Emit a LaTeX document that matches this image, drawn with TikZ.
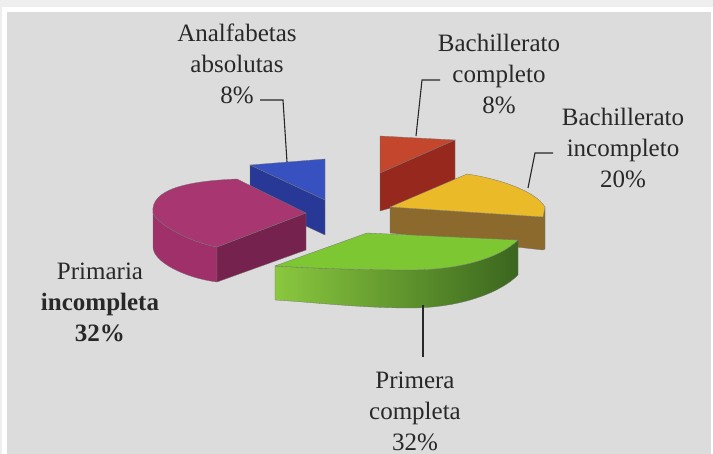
\documentclass[tikz,border=0pt]{standalone}
\usepackage{fontspec}
\setmainfont{Liberation Serif}
\definecolor{panel}{RGB}{220,220,220}
\definecolor{strip}{RGB}{238,238,238}
\definecolor{txt}{RGB}{40,40,40}
\definecolor{magtop}{RGB}{168,54,112}
\definecolor{magrim}{RGB}{160,48,106}
\definecolor{magfront}{RGB}{118,34,78}
\definecolor{bluetop}{RGB}{55,82,192}
\definecolor{blueside}{RGB}{40,56,150}
\definecolor{redtop}{RGB}{196,70,45}
\definecolor{redside}{RGB}{150,40,30}
\definecolor{yeltop}{RGB}{234,186,40}
\definecolor{yelside}{RGB}{140,105,45}
\definecolor{grntop}{RGB}{125,200,50}
\definecolor{grnl}{RGB}{138,200,62}
\definecolor{grnr}{RGB}{58,102,30}
\tikzset{
  lbl/.style={align=center,inner sep=0pt,text=txt,font=\fontsize{25}{31}\selectfont},
  leader/.style={draw=txt,line width=1.1pt},
  edge/.style={draw=black!55,line width=0.3pt}
}
\begin{document}
\begin{tikzpicture}[x=1pt,y=-1pt]
\useasboundingbox (0,0) rectangle (713,454);
% background
\fill[white] (0,0) rectangle (713,454);
\fill[strip] (0,0) rectangle (713,7);
\fill[strip] (0,0) rectangle (2,454);
\fill[panel] (7,12) rectangle (711,454);
% blue slice
\fill[blueside,edge] (250,165) -- (325,200) -- (325,235) -- (250,200) -- cycle;
\fill[bluetop,edge] (250,165) -- (325,159) -- (325,200) -- cycle;
% red slice
\fill[redside,edge] (380,173) -- (455,140) -- (455,190) -- (380,211) -- cycle;
\fill[redtop,edge] (380,136) -- (455,140) -- (380,173) -- cycle;
% yellow slice
\fill[yelside,edge] (390,207) -- (543,217) -- (545,208) -- (545,249) -- (543,250) -- (390,233) -- cycle;
\fill[yeltop,edge] (390,207) -- (467,174) .. controls (495,178) and (535,190) .. (545,207) -- (543,217) -- cycle;
% magenta slice
\fill[magrim,edge] (153,213) .. controls (158,225) and (190,242) .. (217,247) -- (217,282) .. controls (185,278) and (153,262) .. (153,247) -- cycle;
\fill[magfront,edge] (217,247) -- (306,213) -- (306,250) -- (217,282) -- cycle;
\fill[magtop,edge] (153,213) .. controls (150,190) and (185,181) .. (237,179) -- (306,213) -- (217,247) .. controls (190,242) and (158,225) .. (153,213) -- cycle;
% green slice
\shade[left color=grnl,right color=grnr] (275,266) .. controls (310,268) and (360,270) .. (410,270) .. controls (460,270) and (500,258) .. (518,240) -- (518,275) .. controls (500,293) and (460,308) .. (410,308) .. controls (360,308) and (310,302) .. (275,300) -- cycle;
\draw[edge] (275,266) .. controls (310,268) and (360,270) .. (410,270) .. controls (460,270) and (500,258) .. (518,240) -- (518,275) .. controls (500,293) and (460,308) .. (410,308) .. controls (360,308) and (310,302) .. (275,300) -- cycle;
\fill[grntop,edge] (275,266) -- (367,233) -- (518,240) .. controls (500,258) and (460,270) .. (410,270) .. controls (360,270) and (310,268) .. (275,266) -- cycle;
% labels
\node[lbl] (analf) at (237,64) {Analfabetas\\absolutas\\8\%};
\node[lbl] (bachc) at (499,74) {Bachillerato\\completo\\8\%};
\node[lbl] (bachi) at (623,148) {Bachillerato\\incompleto\\20\%};
\node[lbl] (prim) at (100,302) {Primaria\\\textbf{incompleta}\\\textbf{32\%}};
\node[lbl] (primc) at (415,411) {Primera\\completa\\32\%};
% leader anchor points
\coordinate (bl0) at (287,162);
\coordinate (bl1) at (283,100);
\coordinate (bl2) at (260,100);
\coordinate (rd0) at (416,136);
\coordinate (rd1) at (422,80);
\coordinate (rd2) at (440,80);
\coordinate (ye0) at (528,188);
\coordinate (ye1) at (535,153);
\coordinate (ye2) at (553,153);
\coordinate (gr0) at (423,305);
\coordinate (gr1) at (423,357);
\draw[leader] (bl0) -- (bl1) -- (bl2);
\draw[leader] (rd0) -- (rd1) -- (rd2);
\draw[leader] (ye0) -- (ye1) -- (ye2);
\draw[leader] (gr0) -- (gr1);
\end{tikzpicture}
\end{document}
